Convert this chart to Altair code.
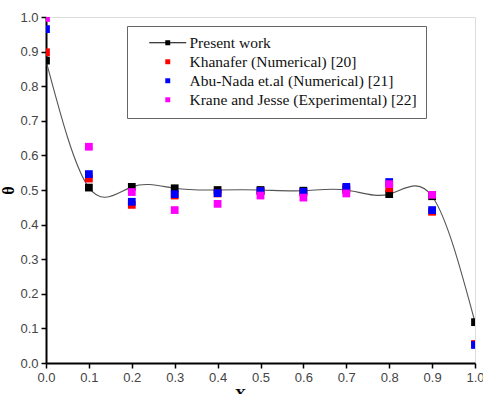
import altair as alt
import pandas as pd

x_vals = [0.0, 0.1, 0.2, 0.3, 0.4, 0.5, 0.6, 0.7, 0.8, 0.9, 1.0]
y_ticks = [0.0, 0.1, 0.2, 0.3, 0.4, 0.5, 0.6, 0.7, 0.8, 0.9, 1.0]
present = [0.874, 0.507, 0.509, 0.505, 0.500, 0.500, 0.498, 0.500, 0.488, 0.482, 0.118]
khanafer = [0.898, 0.533, 0.457, 0.484, 0.490, 0.496, 0.493, 0.506, 0.505, 0.437, 0.055]
abunada = [0.965, 0.546, 0.466, 0.488, 0.491, 0.497, 0.495, 0.509, 0.523, 0.442, 0.052]
krane = [0.997, 0.625, 0.494, 0.442, 0.460, 0.484, 0.478, 0.490, 0.517, 0.486, None]

series_names = [
    "Present work",
    "Khanafer (Numerical) [20]",
    "Abu-Nada et.al (Numerical) [21]",
    "Krane and Jesse (Experimental) [22]",
]
series_colors = ["#000000", "#ff0000", "#0000ff", "#ff00ff"]

rows = []
for name, vals in zip(series_names, [present, khanafer, abunada, krane]):
    for xv, yv in zip(x_vals, vals):
        if yv is not None:
            rows.append({"X": xv, "theta": yv, "series": name})
df = pd.DataFrame(rows)
df_present = df[df["series"] == "Present work"]

sq = "M-0.33,-0.33H0.33V0.33H-0.33Z"
pw = "M-2.47,-0.07H2.47V0.07H-2.47Z M-0.33,-0.33H0.33V0.33H-0.33Z"

xscale = alt.Scale(domain=[0, 1], nice=False)
yscale = alt.Scale(domain=[0, 1], nice=False)
color_scale = alt.Scale(domain=series_names, range=series_colors)

x_axis = alt.Axis(
    values=x_vals, format=".1f", grid=False, title="X",
    labelFont="Liberation Sans", labelFontSize=13, labelColor="#444",
    tickSize=5, tickWidth=1.5, tickColor="black", domainColor="black", domainWidth=2,
    titleFont="Liberation Serif", titleFontSize=16, titleFontWeight="bold",
    titlePadding=2, titleX=194, labelPadding=3, labelFlush=False, labelOverlap=False,
)
y_axis = alt.Axis(
    values=y_ticks, format=".1f", grid=False, title="θ",
    labelFont="Liberation Sans", labelFontSize=13, labelColor="#444",
    tickSize=5, tickWidth=1.5, tickColor="black", domainColor="black", domainWidth=2,
    titleFont="Liberation Serif", titleFontSize=16, titleFontWeight="bold",
    titlePadding=3, labelPadding=3, labelFlush=False, labelOverlap=False,
)

X = alt.X("X:Q", scale=xscale, axis=x_axis)
Y = alt.Y("theta:Q", scale=yscale, axis=y_axis)

legend_props = dict(
    orient="none", legendX=81, legendY=9, title=None,
    padding=9, strokeColor="#666", fillColor="white",
    labelFont="Liberation Serif", labelFontSize=15.5,
    labelColor="#111", labelLimit=400,
    symbolSize=225, symbolOffset=24, labelOffset=14,
    rowPadding=2, symbolStrokeWidth=0,
)

line = alt.Chart(df_present).mark_line(
    interpolate="natural", color="#555", strokeWidth=1.1, clip=True
).encode(x=X, y=Y)

points = alt.Chart(df).mark_point(
    shape="square", filled=True, size=60, opacity=1, clip=True
).encode(
    x=X, y=Y,
    color=alt.Color("series:N", scale=color_scale, legend=None),
)

legend_layer = alt.Chart(df).mark_point(filled=True, opacity=1).encode(
    x=X, y=Y,
    color=alt.Color("series:N", scale=color_scale, title=None,
                    legend=alt.Legend(**legend_props)),
    shape=alt.Shape("series:N", title=None,
                    scale=alt.Scale(domain=series_names, range=[pw, sq, sq, sq]),
                    legend=alt.Legend(**legend_props)),
).transform_filter("false")

chart = alt.layer(line, points, legend_layer).resolve_legend(
    color="independent", shape="independent"
).properties(
    width=429, height=346,
    autosize=alt.AutoSizeParams(type="none"),
    padding={"left": 46, "top": 17, "right": 8, "bottom": 31},
).configure_view(stroke="black", strokeWidth=1.5).configure(background="white")

chart.save("out.html", embed_options={"renderer": "svg", "actions": False})
